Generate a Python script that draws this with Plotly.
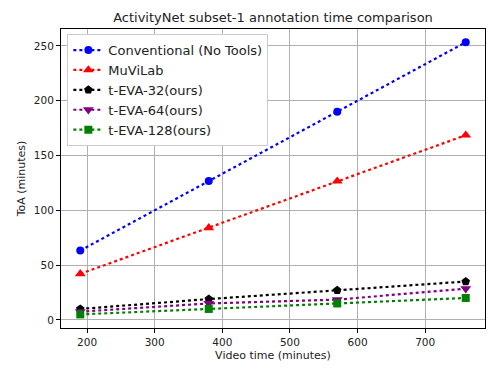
import plotly.graph_objects as go

video_time = [190, 380, 570, 760]

conventional = [63.3, 126.7, 190.0, 253.3]
muvilab = [42.0, 84.0, 126.5, 168.5]
teva_32 = [10.0, 19.0, 27.0, 35.0]
teva_64 = [7.5, 15.0, 18.5, 28.5]
teva_128 = [5.0, 10.0, 15.0, 20.0]

series = [
    ("Conventional (No Tools)", conventional, "blue", "circle", 8),
    ("MuViLab", muvilab, "red", "triangle-up", 9.5),
    ("t-EVA-32(ours)", teva_32, "black", "pentagon", 9),
    ("t-EVA-64(ours)", teva_64, "purple", "triangle-down", 9.5),
    ("t-EVA-128(ours)", teva_128, "green", "square", 8),
]

fig = go.Figure()
for name, vals, color, sym, msize in series:
    fig.add_trace(go.Scatter(
        x=video_time, y=vals, name=name, mode="lines+markers",
        line=dict(color=color, width=2.2, dash="dot"),
        marker=dict(color=color, symbol=sym, size=msize),
    ))

axis_common = dict(
    showline=True, linecolor="black", linewidth=1, mirror=True,
    ticks="outside", ticklen=4, tickcolor="black",
    showgrid=True, gridcolor="#b0b0b0", gridwidth=1,
    zeroline=False, tickfont=dict(size=10.5, color="#222"),
)

# page body has an 8px margin, so the figure is a bit smaller and shifted
fig.update_layout(
    width=490, height=366,
    paper_bgcolor="white", plot_bgcolor="white",
    font=dict(family="DejaVu Sans", color="#222"),
    title=dict(text="ActivityNet subset-1 annotation time comparison",
               x=0.5, xanchor="center", xref="paper", y=0.973, yref="container",
               yanchor="middle", font=dict(size=13, color="#222")),
    margin=dict(l=45, r=12, t=21, b=46),
    showlegend=True,
    legend=dict(x=0.015, y=0.983, xanchor="left", yanchor="top",
                bgcolor="white", bordercolor="#cccccc", borderwidth=1,
                font=dict(size=13, color="#222"), tracegroupgap=0,
                itemwidth=30),
    xaxis=dict(range=[161.5, 788.5], tickvals=[200, 300, 400, 500, 600, 700],
               title=dict(text="Video time (minutes)", font=dict(size=11), standoff=4),
               **axis_common),
    yaxis=dict(range=[-7.4, 265.4], tickvals=[0, 50, 100, 150, 200, 250],
               title=dict(text="ToA (minutes)", font=dict(size=11), standoff=6),
               **axis_common),
)

fig.write_html("out.html")
